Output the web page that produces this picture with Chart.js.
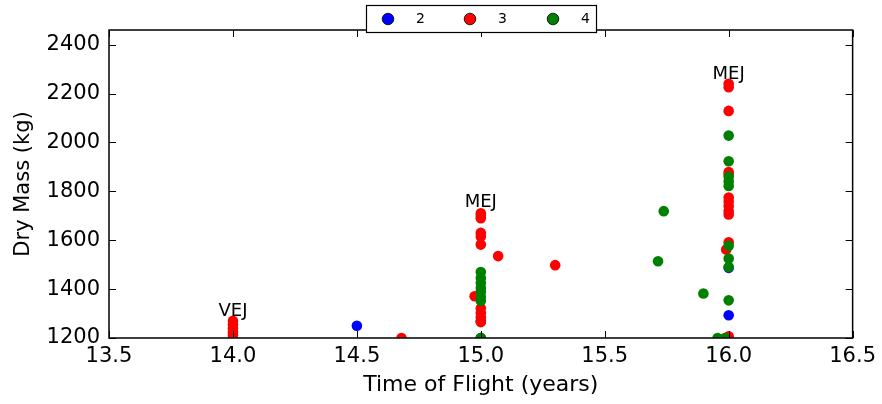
<!DOCTYPE html>
<html>
<head>
<meta charset="utf-8">
<script src="https://cdn.jsdelivr.net/npm/chart.js@4.4.0/dist/chart.umd.min.js"></script>
<style>
  html, body { margin: 0; padding: 0; background: #fff; }
  #wrap { width: 882px; height: 404px; }
</style>
</head>
<body>
<div id="wrap"><canvas id="c" width="882" height="404"></canvas></div>
<script>
// ---- Data ----
const seriesNames = ['2', '3', '4'];
const seriesColors = ['#0000ff', '#ff0000', '#008000'];

// Series "2" (blue): time of flight (years), dry mass (kg)
const tof2  = [14.5, 15.0, 15.0, 16.0, 16.0];
const mass2 = [1250, 1270, 1200, 1487, 1293];

// Series "3" (red)
const tof3  = [14.0, 14.0, 14.0, 14.0, 14.0, 14.0,
               14.68,
               15.0, 15.0, 15.0, 15.0, 15.0, 15.0, 14.975, 15.0, 15.0, 15.0, 15.0,
               15.07, 15.3,
               16.0, 16.0, 16.0, 16.0, 16.0, 16.0, 16.0, 16.0, 16.0, 16.0, 15.99, 16.0, 16.0];
const mass3 = [1270, 1255, 1240, 1225, 1212, 1200,
               1200,
               1710, 1700, 1690, 1630, 1615, 1582, 1371, 1322, 1302, 1285, 1265,
               1535, 1498,
               2240, 2226, 2129, 1879, 1870, 1775, 1758, 1740, 1720, 1705, 1562, 1592, 1207];

// Series "4" (green)
const tof4  = [15.0, 15.0, 15.0, 15.0, 15.0, 15.0, 15.0, 15.0,
               15.715, 15.738, 15.898,
               16.0, 16.0, 16.0, 16.0, 16.0, 16.0, 16.0, 16.0, 16.0, 15.955, 15.985];
const mass4 = [1470, 1445, 1425, 1405, 1388, 1368, 1352, 1200,
               1514, 1719, 1382,
               2028, 1923, 1860, 1840, 1822, 1577, 1525, 1490, 1354, 1200, 1200];

// Axis ticks
const xTicks = [13.5, 14.0, 14.5, 15.0, 15.5, 16.0, 16.5];
const yTicks = [1200, 1400, 1600, 1800, 2000, 2200, 2400];
const xRange = [13.5, 16.5];
const yRange = [1200, 2460];

// Annotations (text, x, y baseline in data units)
const annText = ['VEJ', 'MEJ', 'MEJ'];
const annX    = [14.0, 15.0, 16.0];
const annY    = [1289, 1736, 2261];

// ---- Build ----
function pts(xs, ys) { return xs.map((x, i) => ({x: x, y: ys[i]})); }

const FONT = 'DejaVu Sans';

const datasets = [
  { label: seriesNames[0], data: pts(tof2, mass2), order: 3 },
  { label: seriesNames[1], data: pts(tof3, mass3), order: 2 },
  { label: seriesNames[2], data: pts(tof4, mass4), order: 1 }
].map((d, i) => Object.assign(d, {
  backgroundColor: seriesColors[i],
  borderColor: seriesColors[i],
  pointRadius: 5.3,
  pointHoverRadius: 5.3,
  pointBorderWidth: 0,
  showLine: false,
  clip: 0
}));

const frame = {
  id: 'frame',
  afterDatasetsDraw(chart) {
    const {ctx, chartArea: a, scales: {x, y}} = chart;
    ctx.save();
    ctx.strokeStyle = '#000';
    ctx.lineWidth = 1;
    const tl = 7;
    xTicks.forEach(v => {
      const px = Math.round(x.getPixelForValue(v)) + 0.5;
      ctx.beginPath();
      ctx.moveTo(px, a.bottom); ctx.lineTo(px, a.bottom - tl);
      ctx.moveTo(px, a.top); ctx.lineTo(px, a.top + tl);
      ctx.stroke();
    });
    yTicks.forEach(v => {
      const py = Math.round(y.getPixelForValue(v)) + 0.5;
      ctx.beginPath();
      ctx.moveTo(a.left, py); ctx.lineTo(a.left + tl, py);
      ctx.moveTo(a.right, py); ctx.lineTo(a.right - tl, py);
      ctx.stroke();
    });
    ctx.lineWidth = 1.5;
    ctx.strokeRect(a.left, a.top, a.right - a.left, a.bottom - a.top);

    // annotations
    ctx.fillStyle = '#000';
    ctx.font = '18px "' + FONT + '"';
    ctx.textAlign = 'center';
    ctx.textBaseline = 'alphabetic';
    annText.forEach((t, i) => {
      ctx.fillText(t, x.getPixelForValue(annX[i]), y.getPixelForValue(annY[i]));
    });

    // legend box
    const bx = 366.5, by = 5.5, bw = 230, bh = 27;
    ctx.fillStyle = '#fff';
    ctx.fillRect(bx, by, bw, bh);
    ctx.lineWidth = 1.2;
    ctx.strokeStyle = '#000';
    ctx.strokeRect(bx, by, bw, bh);
    const mx = [388, 470, 553];
    const tx = [416, 498, 581];
    ctx.font = '14px "' + FONT + '"';
    ctx.textAlign = 'left';
    ctx.textBaseline = 'middle';
    seriesNames.forEach((n, i) => {
      ctx.beginPath();
      ctx.arc(mx[i], 19, 5.8, 0, Math.PI * 2);
      ctx.fillStyle = seriesColors[i];
      ctx.fill();
      ctx.lineWidth = 0.8;
      ctx.strokeStyle = '#000';
      ctx.stroke();
      ctx.fillStyle = '#000';
      ctx.fillText(n, tx[i], 19.5);
    });
    ctx.restore();
  }
};

Chart.defaults.color = '#000';
Chart.defaults.font.family = FONT;

new Chart(document.getElementById('c'), {
  type: 'scatter',
  data: { datasets },
  plugins: [frame],
  options: {
    responsive: false,
    animation: false,
    events: [],
    layout: { padding: { top: 30, right: 29, left: 0, bottom: 0 } },
    plugins: { legend: { display: false }, tooltip: { enabled: false } },
    scales: {
      x: {
        type: 'linear',
        min: xRange[0], max: xRange[1],
        grid: { display: false, drawTicks: false },
        border: { display: false },
        afterBuildTicks: s => { s.ticks = xTicks.map(v => ({value: v})); },
        afterFit: s => { s.height = 66; },
        ticks: {
          padding: 6,
          font: { size: 21 },
          callback: v => Number(v).toFixed(1),
          maxRotation: 0, autoSkip: false
        },
        title: {
          display: true, text: 'Time of Flight (years)',
          font: { size: 22 }, padding: { top: 0, bottom: 6 }
        }
      },
      y: {
        type: 'linear',
        min: yRange[0], max: yRange[1],
        grid: { display: false, drawTicks: false },
        border: { display: false },
        afterBuildTicks: s => { s.ticks = yTicks.map(v => ({value: v})); },
        afterFit: s => { s.width = 109; },
        ticks: {
          padding: 9,
          font: { size: 21 },
          callback: v => String(v),
          autoSkip: false
        },
        title: {
          display: true, text: 'Dry Mass (kg)',
          font: { size: 21 }, padding: { top: 11, bottom: 0 }
        }
      }
    }
  }
});
</script>
</body>
</html>
